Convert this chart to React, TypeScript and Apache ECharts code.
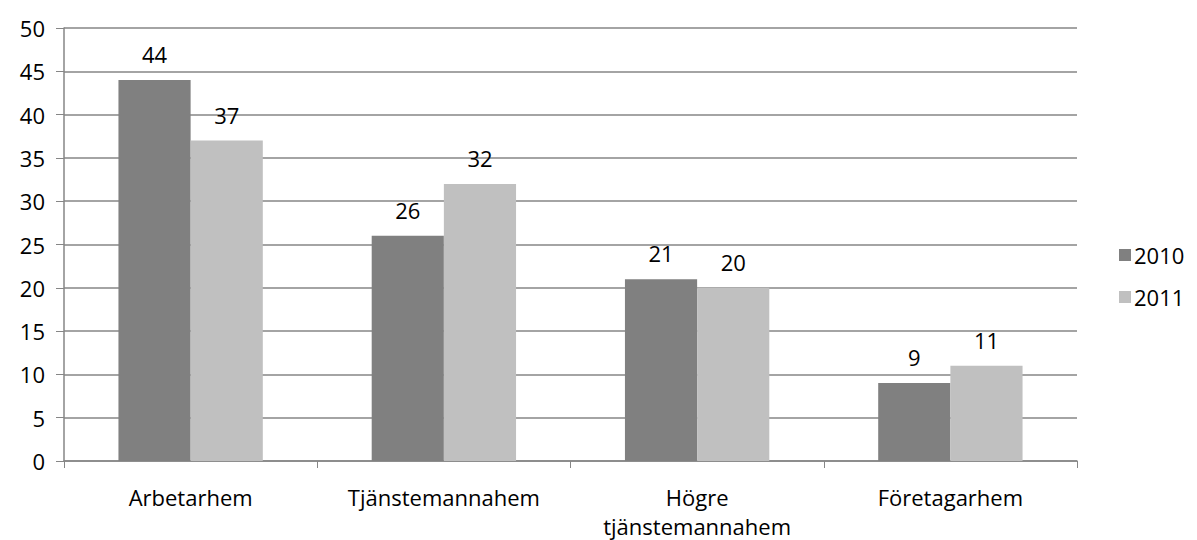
import React, { useEffect, useRef } from "react";
import * as echarts from "echarts";

const categories = ["Arbetarhem", "Tjänstemannahem", "Högre\ntjänstemannahem", "Företagarhem"];
const values2010 = [44, 26, 21, 9];
const values2011 = [37, 32, 20, 11];
const seriesNames = ["2010", "2011"];

const FONT = "'Open Sans', 'Noto Sans', sans-serif";
const FS = 22;

export default function App() {
  const ref = useRef<HTMLDivElement>(null);
  useEffect(() => {
    if (!ref.current) return;
    const chart = echarts.init(ref.current, null, { renderer: "svg" });
    const labelStyle = {
      show: true,
      position: "top" as const,
      distance: 15,
      color: "#000",
      fontSize: FS,
      fontFamily: FONT,
    };
    chart.setOption({
      animation: false,
      textStyle: { fontFamily: FONT },
      grid: { left: 64, right: 120, top: 28, bottom: 77, containLabel: false },
      legend: {
        orient: "vertical",
        left: 1114,
        top: 239,
        itemWidth: 12,
        itemHeight: 12,
        itemGap: 20,
        icon: "rect",
        textStyle: { fontSize: FS, color: "#000", fontFamily: FONT, padding: [0, 0, 0, -2] },
        data: seriesNames,
      },
      xAxis: {
        type: "category",
        data: categories,
        axisLine: { lineStyle: { color: "#868686", width: 1.5 } },
        axisTick: { show: true, length: 7, lineStyle: { color: "#868686" } },
        axisLabel: { color: "#000", fontSize: FS, margin: 21, lineHeight: 29, fontFamily: FONT },
      },
      yAxis: {
        type: "value",
        min: 0,
        max: 50,
        interval: 5,
        axisLine: { show: true, lineStyle: { color: "#868686", width: 1.5 } },
        axisTick: { show: true, length: 8, lineStyle: { color: "#868686" } },
        splitLine: { show: true, lineStyle: { color: "#868686", width: 1.5 } },
        axisLabel: { color: "#000", fontSize: FS, margin: 19, fontFamily: FONT },
      },
      series: [
        {
          name: seriesNames[0],
          type: "bar",
          data: values2010,
          barGap: "0%",
          barCategoryGap: "43%",
          itemStyle: { color: "#808080" },
          label: labelStyle,
        },
        {
          name: seriesNames[1],
          type: "bar",
          data: values2011,
          barGap: "0%",
          barCategoryGap: "43%",
          itemStyle: { color: "#c0c0c0" },
          label: labelStyle,
        },
      ],
    });
    return () => chart.dispose();
  }, []);
  return <div ref={ref} style={{ width: 1197, height: 540, position: "absolute", left: 0, top: 0 }} />;
}
